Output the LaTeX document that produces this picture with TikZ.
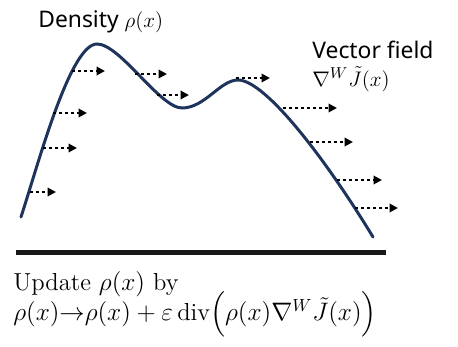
\documentclass[tikz,border=0pt]{standalone}
\usepackage{amsmath}
\usepackage{fontspec}
\newfontfamily\labelsans{Noto Sans}
\usetikzlibrary{arrows.meta}
\definecolor{curvenavy}{RGB}{31,52,92}

\begin{document}
\begin{tikzpicture}[
  density/.style={curvenavy,line width=1.7pt,line cap=round},
  flow/.style={black,line width=1.1pt,dash pattern=on 1.6pt off 1.8pt,-{Triangle[length=4.8pt,width=4.8pt]}},
  toplabel/.style={font=\labelsans\fontsize{13}{18}\selectfont,anchor=west,inner sep=0pt},
  bottomlabel/.style={font=\fontsize{14}{17}\selectfont,anchor=west,inner sep=0pt}]
\useasboundingbox (0,0) rectangle (9.160,-6.940);
\draw[density] (0.420,-4.340) .. controls (0.760,-3.300) and (1.400,-0.880) .. (1.940,-0.880)
  .. controls (2.400,-0.880) and (3.200,-2.160) .. (3.640,-2.160)
  .. controls (4.100,-2.160) and (4.400,-1.600) .. (4.760,-1.600)
  .. controls (5.300,-1.600) and (6.500,-3.160) .. (7.460,-4.740);
\draw[flow] (0.600,-3.840) -- (1.120,-3.840);
\draw[flow] (0.860,-2.960) -- (1.540,-2.960);
\draw[flow] (1.060,-2.260) -- (1.740,-2.260);
\draw[flow] (1.440,-1.420) -- (2.100,-1.420);
\draw[flow] (2.700,-1.480) -- (3.340,-1.480);
\draw[flow] (3.140,-1.900) -- (3.780,-1.900);
\draw[flow] (4.720,-1.560) -- (5.400,-1.560);
\draw[flow] (5.660,-2.160) -- (6.740,-2.160);
\draw[flow] (6.200,-2.840) -- (7.060,-2.840);
\draw[flow] (6.740,-3.600) -- (7.640,-3.600);
\draw[flow] (7.100,-4.160) -- (7.960,-4.160);
\draw[black!90,line width=2.3pt] (0.320,-5.050) -- (7.720,-5.050);
\node[toplabel] (densitylabel) at (0.760,-0.440) {Density $\rho(x)$};
\node[toplabel] (fieldlabel) at (6.240,-1.000) {Vector field};
\node[toplabel] (gradlabel) at (6.240,-1.580) {$\nabla^{W}\tilde{J}(x)$};
\node[bottomlabel] (updatelabel) at (0.260,-5.690) {Update $\rho(x)$ by};
\node[bottomlabel] (rulelabel) at (0.260,-6.290) {$\rho(x){\rightarrow}\rho(x)+\varepsilon\,\mathrm{div}\Bigl(\rho(x)\nabla^{W}\tilde{J}(x)\Bigr)$};
\end{tikzpicture}
\end{document}
